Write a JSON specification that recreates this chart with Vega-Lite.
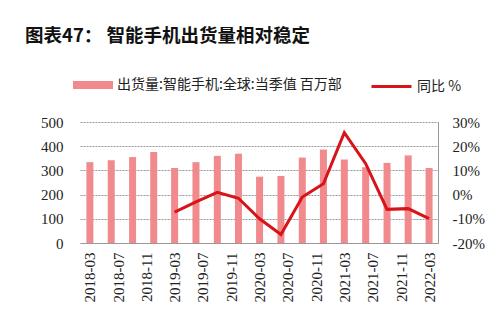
{
  "$schema": "https://vega.github.io/schema/vega-lite/v6.json",
  "width": 358,
  "height": 121,
  "autosize": {"type": "none"},
  "padding": {"left": 80, "right": 62, "top": 122, "bottom": 78},
  "background": "white",
  "title": {
    "text": "图表47：  智能手机出货量相对稳定",
    "anchor": "start",
    "frame": "group",
    "dx": -55,
    "offset": 20,
    "font": "Noto Sans CJK SC",
    "fontSize": 18.5,
    "fontWeight": "bold",
    "color": "#111111"
  },
  "config": {
    "view": {"stroke": null},
    "axis": {"labelFont": "Liberation Serif", "labelFontSize": 15, "labelColor": "#222222", "ticks": false, "titleFontSize": 0},
    "legend": {"labelFont": "Noto Sans CJK SC", "labelFontSize": 14, "labelColor": "#222222", "padding": 0, "labelLimit": 400}
  },
  "data": {
    "values": [
      {"date": "2018/03/01", "shipments": 334, "yoy": null},
      {"date": "2018/06/01", "shipments": 342, "yoy": null},
      {"date": "2018/09/01", "shipments": 355, "yoy": null},
      {"date": "2018/12/01", "shipments": 376, "yoy": null},
      {"date": "2019/03/01", "shipments": 310, "yoy": -7.2},
      {"date": "2019/06/01", "shipments": 334, "yoy": -3.0},
      {"date": "2019/09/01", "shipments": 360, "yoy": 0.9},
      {"date": "2019/12/01", "shipments": 369, "yoy": -1.5},
      {"date": "2020/03/01", "shipments": 274, "yoy": -10.0},
      {"date": "2020/06/01", "shipments": 277, "yoy": -16.5},
      {"date": "2020/09/01", "shipments": 353, "yoy": -1.0},
      {"date": "2020/12/01", "shipments": 386, "yoy": 4.5},
      {"date": "2021/03/01", "shipments": 345, "yoy": 25.6},
      {"date": "2021/06/01", "shipments": 313, "yoy": 12.8},
      {"date": "2021/09/01", "shipments": 331, "yoy": -6.1},
      {"date": "2021/12/01", "shipments": 362, "yoy": -5.8},
      {"date": "2022/03/01", "shipments": 310, "yoy": -9.9}
    ]
  },
  "encoding": {
    "x": {
      "field": "date",
      "type": "temporal",
      "title": null,
      "scale": {"domain": [{"year": 2018, "month": 2, "date": 8}, {"year": 2022, "month": 3, "date": 18}]},
      "axis": {
        "values": [
          {"year": 2018, "month": 3, "date": 1}, {"year": 2018, "month": 7, "date": 1}, {"year": 2018, "month": 11, "date": 1},
          {"year": 2019, "month": 3, "date": 1}, {"year": 2019, "month": 7, "date": 1}, {"year": 2019, "month": 11, "date": 1},
          {"year": 2020, "month": 3, "date": 1}, {"year": 2020, "month": 7, "date": 1}, {"year": 2020, "month": 11, "date": 1},
          {"year": 2021, "month": 3, "date": 1}, {"year": 2021, "month": 7, "date": 1}, {"year": 2021, "month": 11, "date": 1},
          {"year": 2022, "month": 3, "date": 1}
        ],
        "format": "%Y-%m",
        "labelAngle": -90,
        "labelPadding": 9,
        "grid": false,
        "domainColor": "#999999",
        "labelFlush": false,
        "labelOverlap": false
      }
    }
  },
  "layer": [
    {
      "mark": {"type": "bar", "size": 7},
      "encoding": {
        "y": {
          "field": "shipments",
          "type": "quantitative",
          "title": null,
          "scale": {"domain": [0, 500]},
          "axis": {"values": [0, 100, 200, 300, 400, 500], "domain": false, "labelPadding": 17, "grid": true, "gridColor": "#999999", "gridDash": [2, 1]}
        },
        "color": {
          "datum": "出货量:智能手机:全球:当季值 百万部",
          "scale": {"range": ["#f08a8c"]},
          "legend": {
            "title": null,
            "orient": "none",
            "legendX": -7,
            "legendY": -57,
            "symbolType": "M-1,-0.2L1,-0.2L1,0.2L-1,0.2Z",
            "symbolSize": 1600,
            "symbolStrokeWidth": 0,
            "symbolOpacity": 1
          }
        }
      }
    },
    {
      "transform": [{"filter": "isValid(datum.yoy)"}],
      "mark": {"type": "line", "strokeWidth": 3},
      "encoding": {
        "y": {
          "field": "yoy",
          "type": "quantitative",
          "title": null,
          "scale": {"domain": [-20, 30]},
          "axis": {"orient": "right", "values": [-20, -10, 0, 10, 20, 30], "labelExpr": "datum.value + '%'", "domainColor": "#999999", "labelPadding": 14, "grid": false}
        },
        "stroke": {
          "datum": "同比 %",
          "scale": {"range": ["#d7141a"]},
          "legend": {
            "title": null,
            "orient": "none",
            "legendX": 290,
            "legendY": -57,
            "symbolType": "stroke",
            "symbolSize": 1600,
            "symbolStrokeWidth": 3
          }
        }
      }
    }
  ],
  "resolve": {"scale": {"y": "independent"}}
}
